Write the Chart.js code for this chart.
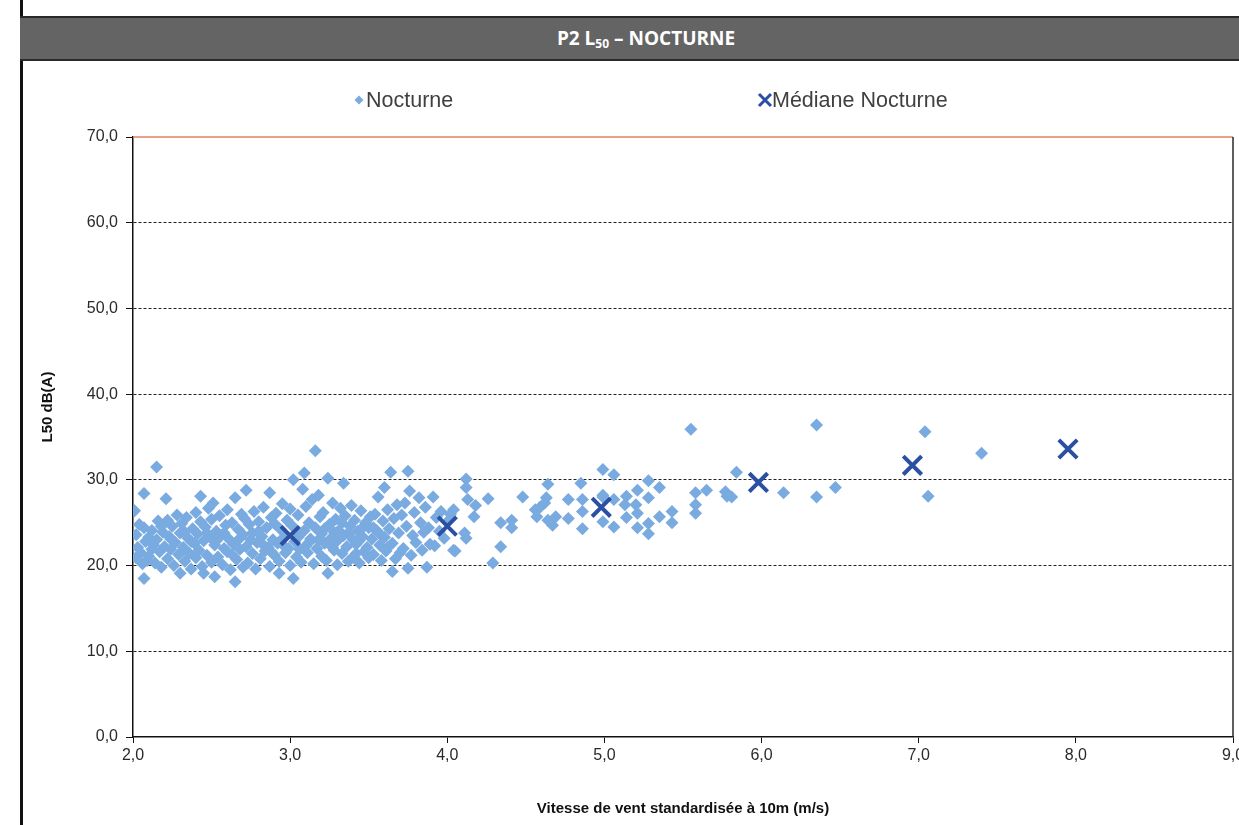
<!DOCTYPE html>
<html>
<head>
<meta charset="utf-8">
<script src="https://cdn.jsdelivr.net/npm/chart.js@4.4.1/dist/chart.umd.min.js"></script>
<style>
  html, body { margin: 0; padding: 0; background: #fff; overflow: hidden; width: 1239px; height: 825px; }
  #leftLine { position: absolute; left: 20px; top: 0; width: 3px; height: 825px; background: #111; }
  #titleBar {
    position: absolute; left: 20px; top: 16px; width: 1186px; height: 41px; padding-left: 33px;
    background: #646464; border-top: 2px solid #2a2a2a; border-bottom: 2px solid #2a2a2a;
    color: #fff; font-family: "Open Sans", sans-serif; font-weight: bold; font-size: 19px;
    line-height: 41px; text-align: center;
  }
  #titleBar sub { font-size: 12px; vertical-align: -3px; line-height: 0; }
  #wrap { position: absolute; left: 23px; top: 60px; width: 1227px; height: 765px; }
</style>
</head>
<body>
<div id="leftLine"></div>
<div id="titleBar">P2 L<sub>50</sub> – NOCTURNE</div>
<div id="wrap"><canvas id="myChart" width="1227" height="765"></canvas></div>
<script>
// Nocturne : [vitesse m/s, L50 dB(A)]
const nocturne = [
    [2.01,26.4],[2.02,23.6],[2.03,22.1],[2.02,20.9],[2.04,24.8],[2.05,21.5],[2.06,20.2],[2.07,24.4],[2.07,28.4],[2.08,22.8],[2.09,20.6],[2.07,18.5],[2.10,23.3],[2.10,21.1],
    [2.12,24.1],[2.13,22.4],[2.14,20.3],[2.15,31.5],[2.15,23.0],[2.16,25.2],[2.17,21.6],[2.18,19.8],[2.19,23.9],[2.20,22.2],[2.12,21.9],[2.18,24.6],
    [2.21,27.8],[2.22,25.3],[2.22,20.8],[2.23,23.4],[2.24,21.9],[2.25,24.6],[2.26,20.0],[2.27,22.7],[2.28,25.9],[2.29,21.3],[2.30,19.1],[2.30,23.8],[2.24,23.1],
    [2.31,24.9],[2.32,22.1],[2.33,20.5],[2.34,25.6],[2.35,23.2],[2.36,21.4],[2.37,19.6],[2.38,24.3],[2.39,22.6],[2.40,26.2],[2.40,20.9],[2.33,23.9],[2.37,22.8],
    [2.41,23.7],[2.42,21.8],[2.43,28.1],[2.43,25.1],[2.44,19.9],[2.45,19.1],[2.45,22.9],[2.46,24.5],[2.47,21.2],[2.48,26.7],[2.49,23.3],[2.50,20.4],[2.50,25.4],[2.47,23.8],
    [2.51,27.3],[2.52,18.7],[2.52,22.4],[2.53,24.0],[2.54,21.0],[2.55,25.8],[2.56,23.5],[2.57,20.1],[2.58,22.0],[2.59,24.7],[2.60,26.5],[2.60,21.6],[2.53,22.9],[2.58,23.8],
    [2.61,23.1],[2.62,19.5],[2.63,25.0],[2.64,22.5],[2.65,27.9],[2.65,18.1],[2.66,20.7],[2.67,24.2],[2.68,21.9],[2.69,26.0],[2.70,23.6],[2.70,19.8],[2.63,21.3],[2.68,23.2],
    [2.71,25.5],[2.72,28.8],[2.72,22.2],[2.73,20.3],[2.74,24.8],[2.75,23.0],[2.76,21.4],[2.77,26.3],[2.78,19.6],[2.79,22.7],[2.80,25.1],[2.80,24.0],[2.76,23.8],
    [2.81,20.8],[2.82,23.4],[2.83,26.8],[2.84,21.7],[2.85,24.4],[2.86,22.1],[2.87,28.5],[2.87,19.9],[2.88,25.6],[2.89,23.0],[2.90,21.2],[2.90,24.9],[2.83,22.4],[2.88,21.6],
    [2.91,26.1],[2.92,22.6],[2.93,19.1],[2.93,20.5],[2.94,24.2],[2.95,27.2],[2.96,23.3],[2.97,21.5],[2.98,25.3],[2.99,22.0],[3.00,20.0],[3.00,26.6],[2.95,22.5],
    [3.01,24.7],[3.02,30.0],[3.02,18.5],[3.03,22.8],[3.04,21.0],[3.05,25.9],[3.06,23.6],[3.07,20.4],[3.08,28.9],[3.09,30.8],[3.09,24.1],[3.10,22.3],[3.10,26.9],[3.05,23.3],[3.06,21.9],
    [3.11,21.5],[3.12,25.0],[3.13,23.1],[3.14,27.7],[3.15,20.2],[3.16,33.4],[3.16,24.4],[3.17,22.0],[3.18,28.2],[3.19,25.7],[3.20,21.1],[3.20,23.7],[3.12,22.7],[3.18,23.0],
    [3.21,26.2],[3.22,22.6],[3.23,20.6],[3.24,30.2],[3.24,19.1],[3.25,24.8],[3.26,23.2],[3.27,27.3],[3.28,21.8],[3.29,25.4],[3.30,22.9],[3.30,20.1],[3.22,24.3],[3.27,22.1],[3.28,23.9],
    [3.31,24.1],[3.32,26.7],[3.33,21.4],[3.34,29.6],[3.34,23.5],[3.35,25.8],[3.36,22.2],[3.37,20.5],[3.38,24.6],[3.39,27.0],[3.40,23.0],[3.40,21.0],[3.33,25.0],[3.37,23.8],
    [3.41,25.3],[3.42,22.5],[3.43,24.0],[3.44,20.3],[3.45,26.4],[3.46,23.4],[3.47,21.6],[3.48,25.0],[3.49,22.1],[3.50,24.4],[3.50,20.9],[3.44,22.9],[3.47,24.6],[3.42,21.4],
    [3.51,25.7],[3.52,23.1],[3.53,21.3],[3.54,26.0],[3.55,24.1],[3.56,28.0],[3.57,22.4],[3.58,20.6],[3.59,25.2],[3.60,29.1],[3.60,23.3],[3.53,24.4],[3.57,23.7],
    [3.61,21.7],[3.62,26.5],[3.63,24.3],[3.64,30.9],[3.65,19.3],[3.65,22.6],[3.66,25.5],[3.67,20.8],[3.68,27.1],[3.69,23.8],[3.70,21.5],[3.62,22.1],
    [3.71,25.9],[3.72,22.0],[3.73,27.3],[3.74,24.6],[3.75,31.0],[3.75,19.7],[3.76,28.7],[3.77,21.2],[3.78,23.5],[3.79,26.2],[3.80,22.7],
    [3.82,27.9],[3.83,25.0],[3.84,21.8],[3.85,23.9],[3.86,26.8],[3.87,19.8],[3.88,24.4],[3.89,22.5],
    [3.91,28.0],[3.92,22.3],[3.93,25.6],[3.95,24.0],[3.96,26.3],[3.98,23.2],[4.00,25.1],[4.02,26.0],[4.04,21.8],[4.05,21.7],
    [4.04,26.5],[4.11,23.8],[4.12,23.2],[4.12,30.1],[4.12,29.1],[4.13,27.7],[4.18,27.0],[4.17,25.7],[4.26,27.8],[4.34,25.0],
    [4.41,25.3],[4.41,24.4],[4.34,22.2],[4.29,20.3],[4.48,28.0],
    [4.64,29.5],[4.63,27.9],[4.62,27.3],[4.59,26.8],[4.56,26.5],[4.57,25.7],[4.64,25.3],[4.69,25.7],[4.67,24.7],[4.77,27.7],
    [4.77,25.5],[4.85,29.6],[4.86,27.7],[4.86,26.3],[4.86,24.3],[4.99,31.2],[5.06,30.6],[4.99,28.0],[4.99,25.1],[5.06,24.5],
    [4.99,28.2],[5.06,27.7],[5.14,28.1],[5.13,27.1],[5.21,28.8],[5.20,27.1],[5.21,26.1],[5.28,29.9],[5.28,27.9],[5.35,29.1],
    [5.43,26.3],[5.43,25.0],[5.35,25.7],[5.28,24.9],[5.28,23.7],[5.21,24.4],[5.14,25.6],
    [5.55,35.9],[5.58,28.5],[5.65,28.8],[5.58,27.1],[5.58,26.1],[5.77,28.6],[5.78,28.1],[5.81,28.0],[5.84,30.9],
    [6.14,28.5],[6.35,36.4],[6.35,28.0],[6.47,29.1],[7.04,35.6],[7.06,28.1],[7.40,33.1]
];

// Médiane Nocturne
const medianSpeed = [3.0, 4.0, 4.98, 5.98, 6.96, 7.95];
const medianLevel = [23.5, 24.6, 26.8, 29.7, 31.7, 33.6];

const yTicks = [0, 10, 20, 30, 40, 50, 60, 70];
const xTicks = [2, 3, 4, 5, 6, 7, 8, 9];
const yTitle = 'L50 dB(A)';

const fmt = v => Number(v).toFixed(1).replace('.', ',');

// plot frame: orange top, dark right
const framePlugin = {
    id: 'frame',
    beforeDatasetsDraw(chart) {
        const {ctx, chartArea: a} = chart;
        ctx.save();
        ctx.lineWidth = 1.5;
        ctx.strokeStyle = '#e0805f';
        ctx.beginPath();
        ctx.moveTo(a.left, a.top);
        ctx.lineTo(a.right, a.top);
        ctx.stroke();
        ctx.strokeStyle = '#2a2a2a';
        ctx.beginPath();
        ctx.moveTo(a.right, a.top);
        ctx.lineTo(a.right, a.bottom);
        ctx.stroke();
        ctx.restore();
    }
};

// legend spread out like the original, plus the y title placed a bit above centre
const legendPlugin = {
    id: 'spreadLegend',
    afterDraw(chart, args, opts) {
        const ctx = chart.ctx;
        ctx.save();
        ctx.font = '21.5px "Liberation Sans", Arial, sans-serif';
        ctx.textBaseline = 'middle';
        chart.data.datasets.forEach((ds, i) => {
            const px = opts.items[i];
            const y = opts.y;
            if (ds.pointStyle === 'rectRot') {
                ctx.fillStyle = ds.backgroundColor;
                ctx.beginPath();
                ctx.moveTo(px, y - 4.5);
                ctx.lineTo(px + 4.5, y);
                ctx.lineTo(px, y + 4.5);
                ctx.lineTo(px - 4.5, y);
                ctx.closePath();
                ctx.fill();
            } else {
                ctx.strokeStyle = ds.borderColor;
                ctx.lineWidth = 3;
                ctx.beginPath();
                ctx.moveTo(px - 6, y - 6);
                ctx.lineTo(px + 6, y + 6);
                ctx.moveTo(px + 6, y - 6);
                ctx.lineTo(px - 6, y + 6);
                ctx.stroke();
            }
            ctx.fillStyle = '#404040';
            ctx.fillText(ds.label, px + opts.gap, y + 1);
        });

        ctx.translate(opts.yTitleX, opts.yTitleY);
        ctx.rotate(-Math.PI / 2);
        ctx.font = 'bold 15px "Liberation Sans", Arial, sans-serif';
        ctx.textAlign = 'center';
        ctx.fillStyle = '#111';
        ctx.fillText(yTitle, 0, 0);
        ctx.restore();
    }
};

const data = {
    datasets: [{
        label: 'Nocturne',
        data: nocturne.map(p => ({x: p[0], y: p[1]})),
        pointStyle: 'rectRot',
        pointRadius: 6.5,
        backgroundColor: '#7aabe0',
        borderColor: '#7aabe0',
        borderWidth: 0,
        order: 1
    }, {
        label: 'Médiane Nocturne',
        data: medianSpeed.map((s, i) => ({x: s, y: medianLevel[i]})),
        pointStyle: 'crossRot',
        pointRadius: 13,
        borderColor: '#2b4fa3',
        backgroundColor: '#2b4fa3',
        borderWidth: 4,
        order: 0
    }]
};

const tickFont = {family: '"Liberation Sans", Arial, sans-serif', size: 16};
const titleFont = {family: '"Liberation Sans", Arial, sans-serif', size: 15, weight: 'bold'};

const config = {
    type: 'scatter',
    data: data,
    options: {
        responsive: false,
        animation: false,
        layout: {padding: {top: 77, left: 0, right: 15, bottom: 0}},
        plugins: {
            legend: {display: false},
            tooltip: {enabled: false},
            spreadLegend: {y: 40, items: [336, 742], gap: 7, yTitleX: 25, yTitleY: 347}
        },
        scales: {
            x: {
                type: 'linear',
                min: 2, max: 9,
                afterBuildTicks: s => { s.ticks = xTicks.map(v => ({value: v})); },
                afterFit: s => { s.height = 88; },
                ticks: {callback: fmt, font: tickFont, color: '#2a2a2a', padding: 3, maxRotation: 0},
                grid: {drawOnChartArea: false, drawTicks: true, tickLength: 6, tickColor: '#111'},
                border: {color: '#111', width: 1.5},
                title: {display: true, text: 'Vitesse de vent standardisée à 10m (m/s)', font: titleFont, color: '#111', padding: {top: 0, bottom: 7}}
            },
            y: {
                min: 0, max: 70,
                afterBuildTicks: s => { s.ticks = yTicks.map(v => ({value: v})); },
                afterFit: s => { s.width = 110; },
                ticks: {callback: fmt, font: tickFont, color: '#2a2a2a', padding: 8},
                grid: {
                    drawTicks: true, tickLength: 7, tickColor: '#111', tickBorderDash: [],
                    color: c => (c.tick && (c.tick.value === 0 || c.tick.value === 70)) ? 'rgba(0,0,0,0)' : '#222',
                    lineWidth: 1
                },
                border: {color: '#111', width: 1.5, dash: [3, 2]}
            }
        }
    },
    plugins: [framePlugin, legendPlugin]
};

const myChart = new Chart(document.getElementById('myChart'), config);
</script>
</body>
</html>
